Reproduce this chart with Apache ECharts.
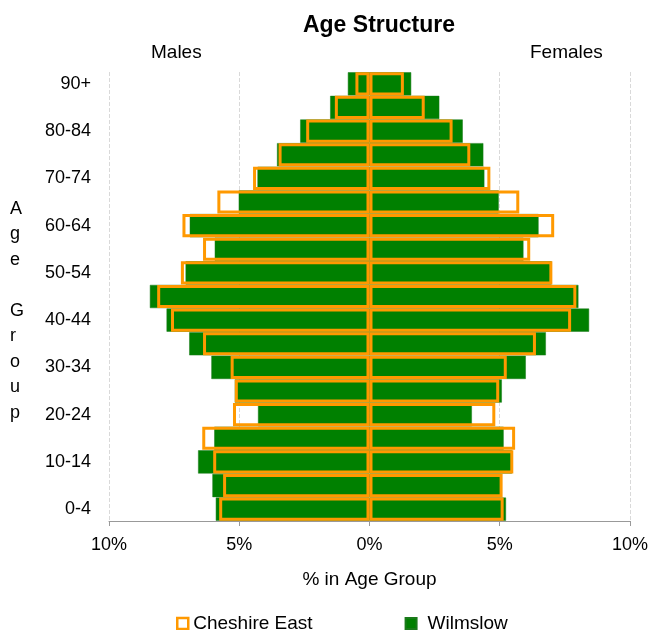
<!DOCTYPE html>
<html>
<head>
<meta charset="utf-8">
<script src="https://cdn.jsdelivr.net/npm/echarts@6/dist/echarts.min.js"></script>
<style>html,body{margin:0;padding:0;background:#fff}#chart{width:651px;height:630px}</style>
</head>
<body>
<div id="chart"></div>
<script>
const ageGroups = ['0-4','5-9','10-14','15-19','20-24','25-29','30-34','35-39','40-44','45-49','50-54','55-59','60-64','65-69','70-74','75-79','80-84','85-89','90+'];
const wilmslowMales   = [5.90,6.03,6.58,5.96,4.28,5.17,6.07,6.92,7.79,8.43,7.06,5.94,6.90,5.02,4.30,3.55,2.66,1.51,0.83];
const wilmslowFemales = [5.24,5.04,5.47,5.15,3.93,5.08,6.00,6.77,8.43,8.02,6.99,5.91,6.49,4.96,4.41,4.37,3.58,2.68,1.60];
const cheshireMales   = [5.77,5.62,6.00,6.42,5.24,5.17,5.33,6.39,7.62,8.15,7.24,6.39,7.18,5.84,4.47,3.49,2.43,1.33,0.54];
const cheshireFemales = [5.15,5.11,5.52,5.59,4.83,4.98,5.27,6.39,7.74,7.94,7.02,6.17,7.09,5.75,4.64,3.87,3.19,2.12,1.32];
const xTicks = { min: -10, max: 10, step: 5 };

const GREEN = '#008000';
const ORANGE = '#FF9900';
const FONT = '"Liberation Sans", Arial, sans-serif';

const chart = echarts.init(document.getElementById('chart'));
const neg = a => a.map(v => -v);

const greenStyle = { color: GREEN, borderColor: '#1a7a1a', borderWidth: 0.5 };
const orangeStyle = { color: 'rgba(0,0,0,0)', borderColor: ORANGE, borderWidth: 3 };

chart.setOption({
  animation: false,
  textStyle: { fontFamily: FONT },
  title: {
    text: 'Age Structure', left: 374, top: 9, textAlign: 'center',
    textStyle: { fontFamily: FONT, fontSize: 23, fontWeight: 'bold', color: '#000' }
  },
  graphic: [
    { type: 'text', left: 151, top: 43, style: { text: 'Males', font: '19px ' + FONT, fill: '#000' } },
    { type: 'text', left: 530, top: 43, style: { text: 'Females', font: '19px ' + FONT, fill: '#000' } },
    { type: 'text', left: 10, top: 196, style: { text: 'A\ng\ne\n\nG\nr\no\nu\np', font: '18px ' + FONT, fill: '#000', lineHeight: 25.5, align: 'center', width: 18 } }
  ],
  legend: {
    top: 609, left: 171, itemGap: 92, itemWidth: 11, itemHeight: 11,
    icon: 'rect',
    textStyle: { fontFamily: FONT, fontSize: 19, color: '#000' },
    data: [
      { name: 'Cheshire East', itemStyle: { color: '#fff', borderColor: ORANGE, borderWidth: 2.5 } },
      { name: 'Wilmslow', itemStyle: { color: GREEN }, textStyle: { padding: [0, 0, 0, 6] } }
    ]
  },
  grid: { left: 109, right: 20, top: 72, bottom: 109 },
  xAxis: {
    type: 'value', min: xTicks.min, max: xTicks.max, interval: xTicks.step,
    name: '% in Age Group', nameLocation: 'middle', nameGap: 49,
    nameTextStyle: { fontFamily: FONT, fontSize: 19, color: '#000' },
    axisLine: { show: true, lineStyle: { color: '#999' } },
    axisTick: { show: true, length: 5, lineStyle: { color: '#999' } },
    axisLabel: { formatter: v => Math.abs(v) + '%', fontSize: 18, color: '#000', margin: 15 },
    splitLine: { show: true, lineStyle: { color: '#d9d9d9', type: 'dashed' } }
  },
  yAxis: {
    type: 'category', data: ageGroups,
    axisLine: { show: false }, axisTick: { show: false },
    axisLabel: { interval: 1, fontSize: 18, color: '#000', margin: 18 },
    splitLine: { show: false }
  },
  series: [
    { name: 'Wilmslow', type: 'bar', stack: 'w', data: neg(wilmslowMales), itemStyle: greenStyle, barCategoryGap: '2%', barGap: '-100%' },
    { name: 'Wilmslow', type: 'bar', stack: 'w', data: wilmslowFemales, itemStyle: greenStyle },
    { name: 'Cheshire East', type: 'bar', stack: 'c', data: neg(cheshireMales), itemStyle: orangeStyle, z: 3 },
    { name: 'Cheshire East', type: 'bar', stack: 'c', data: cheshireFemales, itemStyle: orangeStyle, z: 3 }
  ]
});
</script>
</body>
</html>
